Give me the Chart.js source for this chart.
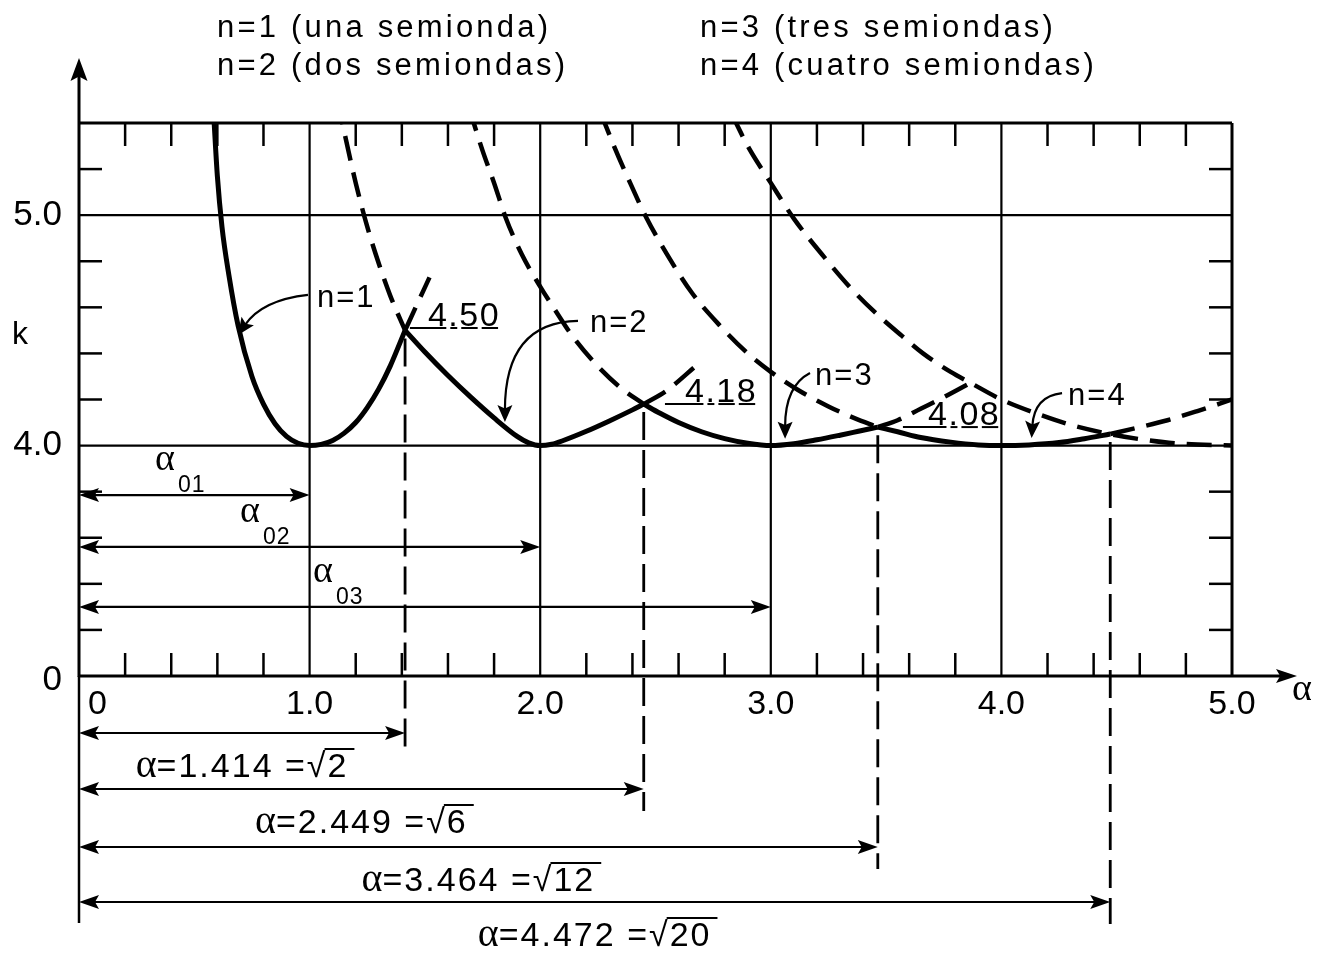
<!DOCTYPE html>
<html>
<head>
<meta charset="utf-8">
<title>k frente a α</title>
<script src="https://cdn.jsdelivr.net/npm/chart.js@4/dist/chart.umd.min.js"></script>
<style>
  html, body { margin: 0; padding: 0; background: #fff; }
  canvas { display: block; }
</style>
</head>
<body>
<canvas id="chart" width="1323" height="956"></canvas>
<script>
// Buckling coefficient k against plate aspect ratio α, one branch per number of half-waves n.
// Solid = governing branch, dashed = continuation of each branch.

const n1SolidAlpha = [0.585, 0.60, 0.62, 0.65, 0.69, 0.75, 0.80, 0.85, 0.90, 0.95, 1.00, 1.05, 1.10, 1.15, 1.20, 1.25, 1.30, 1.35, 1.414];
const n1SolidK     = [5.42, 5.17, 4.95, 4.74, 4.52, 4.30, 4.18, 4.095, 4.04, 4.01, 4.00, 4.005, 4.022, 4.054, 4.10, 4.165, 4.246, 4.346, 4.50];
const n1DashAlpha  = [1.414, 1.46, 1.52];
const n1DashK      = [4.50, 4.60, 4.73];

const n2TopAlpha   = [1.12, 1.20, 1.25, 1.30, 1.35, 1.414];
const n2TopK       = [5.50, 5.14, 4.95, 4.79, 4.65, 4.50];
const n2SolidAlpha = [1.414, 1.50, 1.60, 1.70, 1.80, 1.90, 1.95, 2.00, 2.05, 2.10, 2.20, 2.30, 2.40, 2.449];
const n2SolidK     = [4.50, 4.406, 4.304, 4.209, 4.12, 4.04, 4.012, 4.00, 4.006, 4.022, 4.062, 4.107, 4.155, 4.18];
const n2DashAlpha  = [2.449, 2.55, 2.68];
const n2DashK      = [4.18, 4.24, 4.35];

const n3TopAlpha   = [1.69, 1.75, 1.80, 1.85, 1.92, 2.00, 2.07, 2.14, 2.24, 2.35, 2.449];
const n3TopK       = [5.47, 5.28, 5.14, 4.99, 4.83, 4.69, 4.58, 4.475, 4.355, 4.25, 4.18];
const n3SolidAlpha = [2.449, 2.52, 2.60, 2.70, 2.80, 2.90, 3.00, 3.10, 3.20, 3.30, 3.38, 3.464];
const n3SolidK     = [4.18, 4.14, 4.10, 4.06, 4.03, 4.01, 4.00, 4.008, 4.025, 4.045, 4.062, 4.08];
const n3DashAlpha  = [3.464, 3.55, 3.65, 3.75, 3.88];
const n3DashK      = [4.08, 4.11, 4.16, 4.21, 4.28];

const n4TopAlpha   = [2.26, 2.32, 2.39, 2.46, 2.55, 2.66, 2.78, 2.90, 3.00, 3.12, 3.25, 3.36, 3.464];
const n4TopK       = [5.45, 5.30, 5.14, 4.99, 4.83, 4.66, 4.52, 4.40, 4.32, 4.24, 4.17, 4.12, 4.08];
const n4SolidAlpha = [3.464, 3.55, 3.65, 3.78, 3.90, 4.00, 4.12, 4.25, 4.36, 4.472];
const n4SolidK     = [4.08, 4.06, 4.035, 4.015, 4.003, 4.00, 4.003, 4.013, 4.03, 4.05];
const n4DashAlpha  = [4.472, 4.60, 4.72, 4.85, 5.00];
const n4DashK      = [4.05, 4.08, 4.11, 4.15, 4.20];

const n5DashAlpha  = [2.83, 2.90, 3.00, 3.10, 3.23, 3.35, 3.45, 3.57, 3.66, 3.78, 3.87, 4.00, 4.15, 4.30, 4.47, 4.60, 4.75, 5.00];
const n5DashK      = [5.44, 5.30, 5.14, 4.985, 4.82, 4.68, 4.58, 4.475, 4.40, 4.32, 4.27, 4.20, 4.14, 4.09, 4.05, 4.028, 4.01, 4.00];

// Branch intersections (α = sqrt(n(n+1))) and the k stated there
const crossAlpha = [1.414, 2.449, 3.464, 4.472];
const crossK     = [4.50, 4.18, 4.08, 4.05];
const crossText  = ['1.414', '2.449', '3.464', '4.472'];
const crossRoot  = ['2', '6', '12', '20'];
const peakLabels = ['4.50', '4.18', '4.08'];

// Minima of the first branches, α0n = n
const minAlpha  = [1, 2, 3];
const minLevelK = [3.785, 3.56, 3.30];
const minLabels = ['01', '02', '03'];

// Axis ticks (the vertical axis is broken: its bottom is marked 0)
const xTickValues = [0, 1, 2, 3, 4, 5];
const xTickLabels = ['0', '1.0', '2.0', '3.0', '4.0', '5.0'];
const yTickValues = [3, 4, 5];
const yTickLabels = ['0', '4.0', '5.0'];
const xGrid = [1, 2, 3, 4];
const yGrid = [4, 5];

const legendLines = [
  ['n=1 (una semionda)', 'n=2 (dos semiondas)'],
  ['n=3 (tres semiondas)', 'n=4 (cuatro semiondas)']
];

// Curve labels n=1..4 with their pointer arrows (data coordinates)
const curveTags = [
  { text: 'n=1', at: [1.032, 4.602], from: [0.993, 4.654], ctrl: [0.794, 4.632], to: [0.690, 4.48] },
  { text: 'n=2', at: [2.216, 4.493], from: [2.164, 4.541], ctrl: [1.847, 4.536], to: [1.847, 4.102] },
  { text: 'n=3', at: [3.192, 4.263], from: [3.170, 4.315], ctrl: [3.062, 4.259], to: [3.062, 4.030] },
  { text: 'n=4', at: [4.289, 4.176], from: [4.263, 4.228], ctrl: [4.142, 4.215], to: [4.131, 4.033] }
];
// Value label placement: text start α, baseline k, underline start α
const peakLabelPos = [[1.513, 4.519, 1.435], [2.628, 4.189, 2.541], [3.682, 4.089, 3.573]];
const minTextAlpha = [0.338, 0.707, 1.023];

const INK = '#000';
const FONT = '"Liberation Sans", Arial, Helvetica, sans-serif';
const GREEK = '"Liberation Serif", "Times New Roman", serif';

function pts(a, k) { return a.map((v, i) => ({ x: v, y: k[i] })); }
function series(a, k, dashed) {
  return {
    data: pts(a, k),
    borderColor: INK,
    borderWidth: dashed ? 4.5 : 5,
    borderDash: dashed ? [25, 12] : [],
    borderCapStyle: 'butt',
    borderJoinStyle: 'round',
    pointRadius: 0,
    fill: false,
    cubicInterpolationMode: 'monotone',
    clip: 0
  };
}

const datasets = [
  series(n1SolidAlpha, n1SolidK, false),
  series(n2SolidAlpha, n2SolidK, false),
  series(n3SolidAlpha, n3SolidK, false),
  series(n4SolidAlpha, n4SolidK, false),
  series(n1DashAlpha, n1DashK, true),
  series(n2TopAlpha, n2TopK, true),
  series(n2DashAlpha, n2DashK, true),
  series(n3TopAlpha, n3TopK, true),
  series(n3DashAlpha, n3DashK, true),
  series(n4TopAlpha, n4TopK, true),
  series(n4DashAlpha, n4DashK, true),
  series(n5DashAlpha, n5DashK, true)
];

// ---------- drawing helpers ----------
function seg(ctx, x1, y1, x2, y2) {
  ctx.beginPath(); ctx.moveTo(x1, y1); ctx.lineTo(x2, y2); ctx.stroke();
}
function head(ctx, tx, ty, ang, len, half) {
  ctx.save();
  ctx.translate(tx, ty); ctx.rotate(ang);
  ctx.beginPath();
  ctx.moveTo(0, 0); ctx.lineTo(-len, -half); ctx.lineTo(-len * 0.8, 0); ctx.lineTo(-len, half);
  ctx.closePath(); ctx.fill();
  ctx.restore();
}
function text(ctx, s, x, y, size, o = {}) {
  ctx.font = `${size}px ${o.family || FONT}`;
  ctx.letterSpacing = (o.sp || 0) + 'px';
  ctx.textAlign = o.align || 'left';
  ctx.textBaseline = o.base || 'alphabetic';
  ctx.fillText(s, x, y);
  const w = ctx.measureText(s).width;
  ctx.letterSpacing = '0px';
  return w;
}
function measure(ctx, s, size, sp, family) {
  ctx.font = `${size}px ${family || FONT}`;
  ctx.letterSpacing = (sp || 0) + 'px';
  const w = ctx.measureText(s).width;
  ctx.letterSpacing = '0px';
  return w;
}

const TICK = 23;
const AXIS_EXT = 65;
const dimOffsets = [57, 113, 171, 226];

const framePlugin = {
  id: 'frame',
  beforeDatasetsDraw(chart) {
    const { ctx, chartArea: ca, scales: { x, y } } = chart;
    ctx.save();
    ctx.strokeStyle = INK; ctx.fillStyle = INK; ctx.lineCap = 'butt';

    // grid
    ctx.lineWidth = 2.2;
    xGrid.forEach(a => { const p = x.getPixelForValue(a); seg(ctx, p, ca.top, p, ca.bottom); });
    yGrid.forEach(k => { const p = y.getPixelForValue(k); seg(ctx, ca.left, p, ca.right, p); });

    // inward minor ticks every 0.2
    ctx.lineWidth = 2.5;
    for (let i = 1; i < 25; i++) {
      if (i % 5 === 0) continue;
      const p = x.getPixelForValue(i * 0.2);
      seg(ctx, p, ca.top, p, ca.top + TICK);
      seg(ctx, p, ca.bottom, p, ca.bottom - TICK);
    }
    for (let i = 1; i < 12; i++) {
      if (i === 5 || i === 10) continue;
      const p = y.getPixelForValue(3 + i * 0.2);
      seg(ctx, ca.left, p, ca.left + TICK, p);
      seg(ctx, ca.right, p, ca.right - TICK, p);
    }

    // frame and axes with arrows
    ctx.lineWidth = 3;
    seg(ctx, ca.left, ca.top, ca.right, ca.top);
    seg(ctx, ca.right, ca.top, ca.right, ca.bottom);
    seg(ctx, ca.left, ca.bottom + 1, ca.left, ca.top - AXIS_EXT + 16);
    seg(ctx, ca.left - 1, ca.bottom, ca.right + AXIS_EXT - 16, ca.bottom);
    head(ctx, ca.left, ca.top - AXIS_EXT, -Math.PI / 2, 23, 8.5);
    head(ctx, ca.right + AXIS_EXT, ca.bottom, 0, 21, 7);

    // tick labels
    xTickValues.forEach((v, i) => {
      const p = x.getPixelForValue(v);
      if (i === 0) text(ctx, xTickLabels[i], p + 9, ca.bottom + 29, 34, { base: 'middle' });
      else text(ctx, xTickLabels[i], p, ca.bottom + 29, 34, { align: 'center', base: 'middle' });
    });
    yTickValues.forEach((v, i) => {
      const p = y.getPixelForValue(v) + (i === 0 ? 4 : 0);
      text(ctx, yTickLabels[i], ca.left - 17, p, 35, { align: 'right', base: 'middle' });
    });
    text(ctx, 'k', 12, y.getPixelForValue(4.48), 32, { base: 'middle' });
    text(ctx, 'α', ca.right + 60, ca.bottom + 24, 38, { family: GREEK });

    // header legend
    legendLines.forEach((col, c) => {
      const lx = c === 0 ? 217 : 700;
      text(ctx, col[0], lx, 37, 31, { sp: 3.2 });
      text(ctx, col[1], lx, 75, 31, { sp: 3.2 });
    });
    ctx.restore();
  },

  afterDatasetsDraw(chart) {
    const { ctx, chartArea: ca, scales: { x, y } } = chart;
    ctx.save();
    ctx.strokeStyle = INK; ctx.fillStyle = INK; ctx.lineCap = 'butt';
    const x0 = x.getPixelForValue(0);

    // left extension line for the dimension arrows
    ctx.lineWidth = 2.5;
    seg(ctx, x0, ca.bottom, x0, ca.bottom + dimOffsets[3] + 21);

    // intersections: dashed drop lines, dimension arrows and labels
    crossAlpha.forEach((a, i) => {
      const xp = x.getPixelForValue(a);
      const yc = y.getPixelForValue(crossK[i]);
      const ay = ca.bottom + dimOffsets[i];
      ctx.lineWidth = 2.8;
      ctx.setLineDash([28, 10]);
      seg(ctx, xp, yc + 8, xp, ay + 22);
      ctx.setLineDash([]);
      ctx.lineWidth = 2.2;
      seg(ctx, x0 + 6, ay, xp - 6, ay);
      head(ctx, x0, ay, Math.PI, 20, 7);
      head(ctx, xp, ay, 0, 20, 7);

      // "α=1.414 =√2" centred under its arrow, radicand overlined
      const size = 34, sp = 2;
      const wA = measure(ctx, 'α', 40, 0, GREEK);
      const pre = '=' + crossText[i] + ' =√';
      const rest = pre + crossRoot[i];
      const wRest = measure(ctx, rest, size, sp);
      const wPre = measure(ctx, pre, size, sp);
      const left = (x0 + xp) / 2 - (wA + wRest) / 2;
      const base = ay + 44;
      text(ctx, 'α', left, base, 40, { family: GREEK });
      text(ctx, rest, left + wA, base, size, { sp });
      ctx.lineWidth = 2;
      seg(ctx, left + wA + wPre - 3, base - 28, left + wA + wRest + 6, base - 28);
    });

    // minima α01, α02, α03
    minAlpha.forEach((a, i) => {
      const xp = x.getPixelForValue(a);
      const ay = y.getPixelForValue(minLevelK[i]);
      ctx.lineWidth = 2.2;
      seg(ctx, x0 + 6, ay, xp - 6, ay);
      head(ctx, x0, ay, Math.PI, 20, 7);
      head(ctx, xp, ay, 0, 20, 7);
      const lx = x.getPixelForValue(minTextAlpha[i]);
      text(ctx, 'α', lx - 2, ay - 25, 38, { family: GREEK });
      text(ctx, minLabels[i], lx + 21, ay - 3, 23, { sp: 1 });
    });

    // value labels at intersections, each glyph underlined
    peakLabels.forEach((s, i) => {
      const [ta, tk, ua] = peakLabelPos[i];
      const tx = x.getPixelForValue(ta), ty = y.getPixelForValue(tk);
      const ux = x.getPixelForValue(ua);
      const size = 34, sp = 1.5;
      text(ctx, s, tx, ty, size, { sp });
      ctx.lineWidth = 2;
      let cx = tx;
      for (let c = 0; c < s.length; c++) {
        const w = measure(ctx, s[c], size, sp);
        const start = c === 0 ? ux : cx + 2;
        seg(ctx, start, ty + 2, cx + w - 2, ty + 2);
        cx += w;
      }
    });

    // curve tags with curved pointers
    curveTags.forEach(t => {
      const P = p => [x.getPixelForValue(p[0]), y.getPixelForValue(p[1])];
      const [sx, sy] = P(t.from), [cx, cy] = P(t.ctrl), [ex, ey] = P(t.to);
      ctx.lineWidth = 2.2;
      const ang = Math.atan2(ey - cy, ex - cx);
      const bx = ex - Math.cos(ang) * 12, by = ey - Math.sin(ang) * 12;
      ctx.beginPath(); ctx.moveTo(sx, sy); ctx.quadraticCurveTo(cx, cy, bx, by); ctx.stroke();
      head(ctx, ex, ey, ang, 17, 7.5);
      const [tx, ty] = P(t.at);
      text(ctx, t.text, tx, ty, 31, { sp: 2 });
    });
    ctx.restore();
  }
};

new Chart(document.getElementById('chart'), {
  type: 'line',
  data: { datasets },
  options: {
    responsive: false,
    devicePixelRatio: 1,
    animation: false,
    events: [],
    layout: { padding: { left: 79, right: 91, top: 123, bottom: 280 } },
    plugins: { legend: { display: false }, tooltip: { enabled: false } },
    scales: {
      x: { type: 'linear', min: 0, max: 5, display: false },
      y: { type: 'linear', min: 3.0, max: 5.4, display: false }
    }
  },
  plugins: [framePlugin]
});
</script>
</body>
</html>
